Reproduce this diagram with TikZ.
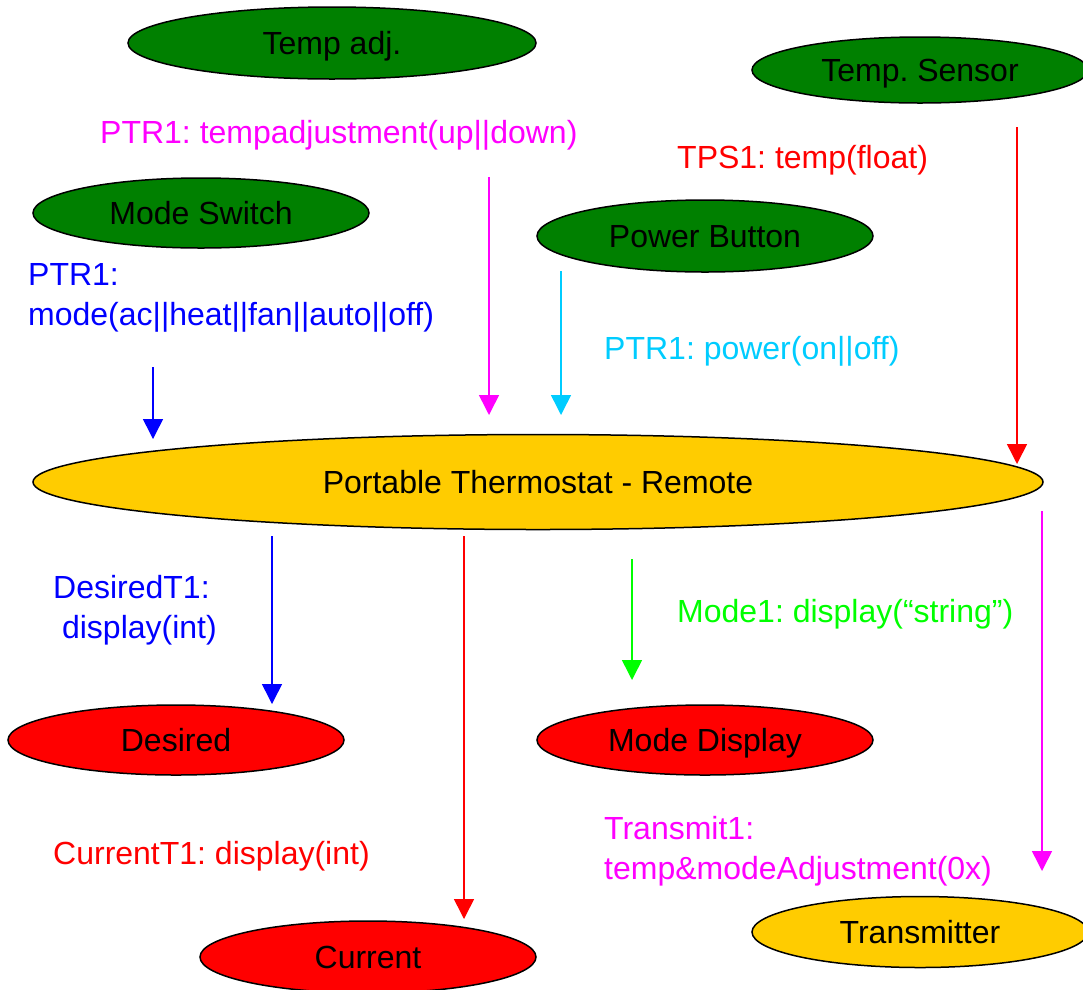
\documentclass[tikz,border=0pt]{standalone}
\usepackage{fontspec}
\setmainfont{Liberation Sans}
\usetikzlibrary{shapes.geometric,arrows.meta}
\frenchspacing
\definecolor{dgreen}{RGB}{0,128,0}
\definecolor{tyellow}{RGB}{255,204,0}
\definecolor{tred}{RGB}{255,0,0}
\definecolor{tblue}{RGB}{0,0,255}
\definecolor{tmag}{RGB}{255,0,255}
\definecolor{tcyan}{RGB}{0,204,255}
\definecolor{tlgreen}{RGB}{0,255,0}
\tikzset{
  oval/.style={ellipse, draw=black, line width=1.5pt, inner sep=0pt, text=black,
    text height=23pt, text depth=0pt,
    font=\fontsize{32}{38}\selectfont\frenchspacing},
  lbl/.style={anchor=west, inner sep=0pt, align=left, yshift=-3pt,
    font=\fontsize{32}{40}\selectfont\frenchspacing},
  flow/.style={line width=1.5pt, -{Triangle[length=20pt,width=20pt]}},
}
\begin{document}
\begin{tikzpicture}[x=1pt,y=-1pt]
\useasboundingbox (0,0) rectangle (1083,989);
% ellipses
\node[oval, fill=dgreen, minimum width=408pt, minimum height=72pt] (tempadj) at (332,43) {Temp adj.};
\node[oval, fill=dgreen, minimum width=336pt, minimum height=66pt] (sensor) at (920,70) {Temp. Sensor};
\node[oval, fill=dgreen, minimum width=336pt, minimum height=70pt] (mode) at (201,213) {Mode Switch};
\node[oval, fill=dgreen, minimum width=336pt, minimum height=72pt] (power) at (705,236) {Power Button};
\node[oval, fill=tyellow, minimum width=1010pt, minimum height=95pt] (remote) at (538,482) {Portable Thermostat - Remote};
\node[oval, fill=tred, minimum width=336pt, minimum height=70pt] (desired) at (176,740) {Desired};
\node[oval, fill=tred, minimum width=336pt, minimum height=70pt] (modedisp) at (705,740) {Mode Display};
\node[oval, fill=tred, minimum width=336pt, minimum height=72pt] (current) at (368,957) {Current};
\node[oval, fill=tyellow, minimum width=336pt, minimum height=71pt] (trans) at (920,932) {Transmitter};
% labels
\node[lbl, text=tmag] (l1) at (100,132) {PTR1: tempadjustment(up||down)};
\node[lbl, text=tred] (l2) at (677,157) {TPS1: temp(float)};
\node[lbl, text=tblue] (l3) at (28,295) {PTR1:\\mode(ac||heat||fan||auto||off)};
\node[lbl, text=tcyan] (l4) at (604,348) {PTR1: power(on||off)};
\node[lbl, text=tblue] (l5) at (53,607) {DesiredT1:\\\ display(int)};
\node[lbl, text=tlgreen] (l6) at (677,611) {Mode1: display(“string”)};
\node[lbl, text=tred] (l7) at (53,853) {CurrentT1: display(int)};
\node[lbl, text=tmag] (l8) at (604,848) {Transmit1:\\temp\&modeAdjustment(0x)};
% arrow end coordinates
\coordinate (a1s) at (153,367); \coordinate (a1e) at (153,439);
\coordinate (a2s) at (489,177); \coordinate (a2e) at (489,415);
\coordinate (a3s) at (561,271); \coordinate (a3e) at (561,415);
\coordinate (a4s) at (1017,127); \coordinate (a4e) at (1017,464);
\coordinate (a5s) at (272,536); \coordinate (a5e) at (272,704);
\coordinate (a6s) at (464,536); \coordinate (a6e) at (464,919);
\coordinate (a7s) at (632,559); \coordinate (a7e) at (632,680);
\coordinate (a8s) at (1042,511); \coordinate (a8e) at (1042,871);
\draw[flow, tblue] (a1s) -- (a1e);
\draw[flow, tmag] (a2s) -- (a2e);
\draw[flow, tcyan] (a3s) -- (a3e);
\draw[flow, tred] (a4s) -- (a4e);
\draw[flow, tblue] (a5s) -- (a5e);
\draw[flow, tred] (a6s) -- (a6e);
\draw[flow, tlgreen] (a7s) -- (a7e);
\draw[flow, tmag] (a8s) -- (a8e);
\end{tikzpicture}
\end{document}
